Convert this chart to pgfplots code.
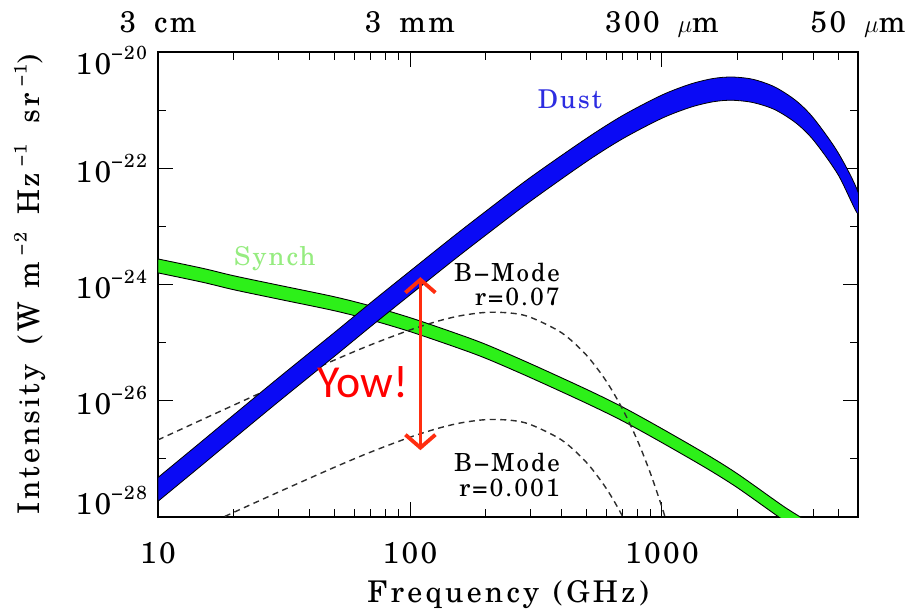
\documentclass[border=0pt]{standalone}
\usepackage{fontspec}
\setmainfont{texgyreschola-regular.otf}[ItalicFont=texgyreschola-italic.otf, BoldFont=texgyreschola-bold.otf, LetterSpace=8]
\newfontfamily\carlito{Carlito}
\usepackage{pgfplots}
\pgfplotsset{compat=1.18}
\usetikzlibrary{arrows.meta}

\definecolor{dustblue}{RGB}{10,10,245}
\definecolor{dusttext}{RGB}{45,45,225}
\definecolor{synchgreen}{RGB}{45,240,25}
\definecolor{synchtext}{RGB}{150,236,128}
\definecolor{arrowred}{RGB}{255,45,15}
\definecolor{dashgray}{RGB}{45,45,45}

\newcommand{\yl}[1]{10\raisebox{15bp}{\fontsize{19}{19}\selectfont #1}}
\newcommand{\sups}[1]{\raisebox{13bp}{\fontsize{18}{18}\selectfont #1}}

\begin{document}
\begin{tikzpicture}
\useasboundingbox (-158bp,-94bp) rectangle (757bp,517bp);
\begin{axis}[
  scale only axis, width=700bp, height=465bp,
  at={(0,0)}, anchor=south west,
  xmode=log, ymode=log,
  xmin=10, xmax=6000, ymin=1e-28, ymax=1e-20,
  xtick={10,100,1000},
  xticklabels={10,100,1000},
  minor xtick={20,30,40,50,60,70,80,90,200,300,400,500,600,700,800,900,2000,3000,4000,5000},
  ytick={1e-28,1e-26,1e-24,1e-22,1e-20},
  yticklabels={{\raisebox{16bp}[\height][\depth]{\yl{−28}}},{\yl{−26}},{\yl{−24}},{\yl{−22}},{\raisebox{-9bp}[\height][\depth]{\yl{−20}}}},
  minor ytick={1e-27,1e-25,1e-23,1e-21},
  tick align=inside,
  major tick length=15bp, minor tick length=8bp,
  every tick/.style={black, line width=0.9bp},
  axis line style={black, line width=1.1bp},
  xticklabel style={font=\fontsize{30}{34}\selectfont, inner sep=0pt, anchor=north, yshift=-25bp},
  yticklabel style={font=\fontsize{30}{34}\selectfont, inner sep=0pt, anchor=east, xshift=-11bp},
  xlabel={Frequency\hspace{14bp}(GHz)},
  ylabel={Intensity\hspace{20bp}(W\hspace{14bp}m\hspace{6bp}\sups{−2}\hspace{18bp}Hz\hspace{6bp}\sups{−1}\hspace{21bp}sr\hspace{6bp}\sups{−1})},
  xlabel style={font=\fontsize{30}{34}\selectfont\addfontfeature{LetterSpace=11}, at={(axis description cs:0.5,-0.183)}, anchor=base, inner sep=0pt},
  ylabel style={font=\fontsize{30}{34}\selectfont\addfontfeature{LetterSpace=10}, at={(axis description cs:-0.169,0.5)}, anchor=base, inner sep=0pt},
]
% Synchrotron band: upper edge left->right, lower edge right->left
\addplot[fill=synchgreen, draw=black, line width=0.9bp, smooth] coordinates {
 (10,2.754e-24) (15,1.905e-24) (20,1.413e-24) (30,9.772e-25) (50,6.166e-25)
 (70,4.266e-25) (100,2.692e-25) (150,1.479e-25) (200,9.333e-26) (300,4.365e-26)
 (500,1.585e-26) (700,7.762e-27) (1000,3.311e-27) (1500,1.202e-27) (2000,5.495e-28)
 (3000,1.585e-28) (3600,9.550e-29) (4000,6.918e-29)
 (4000,3.981e-29) (3600,5.495e-29) (3000,9.120e-29) (2000,3.162e-28) (1500,6.918e-28)
 (1000,1.905e-27) (700,4.467e-27) (500,9.120e-27) (300,2.512e-26) (200,5.370e-26)
 (150,8.511e-26) (100,1.549e-25) (70,2.455e-25) (50,3.548e-25) (30,5.623e-25)
 (20,8.128e-25) (15,1.096e-24) (10,1.585e-24)} -- cycle;

% B-mode r=0.07
\addplot[dashgray, line width=1.4bp, dash pattern=on 6bp off 4.5bp, smooth] coordinates {
 (10,2.123e-27) (15,4.764e-27) (20,8.433e-27) (30,1.871e-26) (50,4.989e-26)
 (70,9.204e-26) (100,1.652e-25) (130,2.366e-25) (160,2.924e-25) (200,3.311e-25)
 (250,3.236e-25) (300,2.742e-25) (400,1.476e-25) (500,6.180e-26) (600,2.203e-26)
 (700,7.015e-27) (800,2.056e-27) (900,5.662e-28) (1000,1.483e-28) (1050,7.482e-29)};
% B-mode r=0.001
\addplot[dashgray, line width=1.4bp, dash pattern=on 6bp off 4.5bp, smooth] coordinates {
 (10,3.034e-29) (15,6.808e-29) (20,1.205e-28) (30,2.673e-28) (50,7.129e-28)
 (70,1.315e-27) (100,2.360e-27) (130,3.381e-27) (160,4.178e-27) (200,4.732e-27)
 (250,4.624e-27) (300,3.917e-27) (400,2.109e-27) (500,8.831e-28) (600,3.148e-28)
 (700,1.002e-28) (800,2.938e-29)};

% Dust band: upper edge left->right, lower edge right->left
\addplot[fill=dustblue, draw=black, line width=0.8bp, smooth] coordinates {
 (10,4.786e-28) (15,2.042e-27) (20,5.754e-27) (30,2.455e-26) (50,1.479e-25)
 (70,4.898e-25) (100,1.698e-24) (150,6.918e-24) (200,1.820e-23) (300,6.918e-23)
 (500,3.236e-22) (700,8.128e-22) (1000,1.820e-21) (1300,2.818e-21) (1600,3.508e-21)
 (1900,3.715e-21) (2300,3.388e-21) (2800,2.512e-21) (3400,1.462e-21) (4000,7.244e-22)
 (5000,1.862e-22) (6000,3.890e-23)
 (6000,1.622e-23) (5000,7.762e-23) (4000,3.020e-22) (3400,6.026e-22) (2800,1.023e-21)
 (2300,1.349e-21) (1900,1.479e-21) (1600,1.396e-21) (1300,1.122e-21) (1000,7.244e-22)
 (700,3.236e-22) (500,1.288e-22) (300,2.692e-23) (200,7.079e-24) (150,2.692e-24)
 (100,6.607e-25) (70,1.905e-25) (50,5.754e-26) (30,9.550e-27) (20,2.239e-27)
 (15,7.943e-28) (10,1.862e-28)} -- cycle;

% annotations
\node[text=dusttext, font=\fontsize{26}{30}\selectfont] at (axis cs:431,1.55e-21) {Dust};
\node[text=synchtext, font=\fontsize{26}{30}\selectfont] at (axis cs:29.1,2.84e-24) {Synch};
\node[anchor=east, align=right, inner sep=0pt, font=\fontsize{25}{25}\selectfont] at (axis cs:394,1.0e-24) {B−Mode\\r=0.07};
\node[anchor=east, align=right, inner sep=0pt, font=\fontsize{25}{25}\selectfont] at (axis cs:394,5.25e-28) {B−Mode\\r=0.001};
\node[text=red, inner sep=0pt, font=\carlito\fontsize{46}{46}\selectfont] at (axis cs:65.1,2.09e-26) {Yow!};
\draw[arrowred, line width=3.8bp, {Straight Barb[length=13bp,width=30bp,line width=3.8bp]}-{Straight Barb[length=13bp,width=30bp,line width=3.8bp]}] (axis cs:110,1.34e-24) -- (axis cs:110,1.41e-27);

\coordinate (w1) at (axis cs:10,1e-20);
\coordinate (w2) at (axis cs:100,1e-20);
\coordinate (w3) at (axis cs:1000,1e-20);
\coordinate (w4) at (axis cs:6000,1e-20);
\end{axis}
% top wavelength labels
\node[anchor=base, inner sep=0pt, yshift=19bp, font=\fontsize{30}{34}\selectfont] at (w1) {3\hspace{0.6em}cm};
\node[anchor=base, inner sep=0pt, yshift=19bp, font=\fontsize{30}{34}\selectfont] at (w2) {3\hspace{0.6em}mm};
\node[anchor=base, inner sep=0pt, yshift=19bp, font=\fontsize{30}{34}\selectfont] at (w3) {300\hspace{0.6em}$\mu$m};
\node[anchor=base, inner sep=0pt, yshift=19bp, font=\fontsize{30}{34}\selectfont] at (w4) {50\hspace{0.6em}$\mu$m};
\end{tikzpicture}
\end{document}
